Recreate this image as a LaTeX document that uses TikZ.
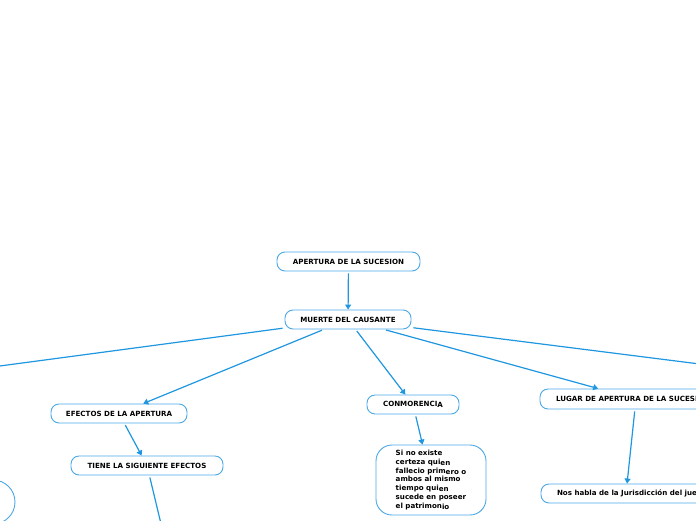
\documentclass[tikz,border=0pt]{standalone}
\usepackage{fontspec}
\setmainfont{DejaVu Sans}
\usetikzlibrary{arrows.meta}
\definecolor{linkblue}{HTML}{1E96E0}
\definecolor{boxblue}{HTML}{4AA8E6}
\begin{document}
\begin{tikzpicture}[x=1pt,y=-1pt,
  font=\fontsize{7.1}{8.7}\selectfont\bfseries,
  box/.style={draw=boxblue, line width=0.9pt, rounded corners=8pt, fill=white,
    inner sep=0pt, minimum height=19pt},
  link/.style={draw=linkblue, line width=1.2pt, shorten <=2pt},
  arr/.style={link, -{Triangle[width=6pt,length=5pt]}}]
\useasboundingbox (0,0) rectangle (696,520);
\clip (0,0) rectangle (696,520);
% nodes
\node[box, minimum width=143pt] (apertura) at (348.5,261.5) {APERTURA DE LA SUCESION};
\node[box, minimum width=126pt] (muerte) at (348,319.5) {MUERTE DEL CAUSANTE};
\node[box, minimum width=136pt] (efectos) at (119,413.5) {EFECTOS DE LA APERTURA};
\node[box, minimum width=152pt] (tiene) at (147,465.5) {TIENE LA SIGUIENTE EFECTOS};
\node[box, minimum width=92pt] (conmo) at (413,404.5) {CONMORENCI\raisebox{-1.2pt}{A}};
\node[box, rounded corners=16pt, minimum width=110pt, minimum height=70pt, align=left] (parag) at (431,480)
  {Si no existe\\certeza qui\raisebox{-1pt}{en}\\fallecio prim\raisebox{-1pt}{ero o}\\ambos al mismo\\tiempo qui\raisebox{-1pt}{en}\\sucede en poseer\\el patrimon\raisebox{-1pt}{io}};
\node[box, minimum height=20pt, inner xsep=16pt] (lugar) at (636,399)
  {\makebox[160pt][l]{LUGAR DE APERTURA DE LA SUCESION}};
\node[box, inner xsep=16pt] (nos) at (626,493.5)
  {\makebox[138pt][l]{Nos habla de la Jurisdicción del juez}};
\node[draw=boxblue, line width=0.9pt, circle, minimum size=44pt, inner sep=0pt] (circ) at (-7,502) {};
\coordinate (offL) at (-10,367.3);
\coordinate (offR) at (706,364.8);
\coordinate (offB) at (162,528);
% connectors
\draw[arr] (apertura) -- (muerte);
\draw[link] (muerte) -- (offL);
\draw[link] (muerte) -- (offR);
\draw[arr] (muerte) -- (efectos);
\draw[arr] (muerte) -- (conmo);
\draw[arr] (muerte) -- (lugar);
\draw[arr] (efectos) -- (tiene);
\draw[link] (tiene) -- (offB);
\draw[arr] (conmo) -- (parag);
\draw[arr] (lugar) -- (nos);
\end{tikzpicture}
\end{document}
